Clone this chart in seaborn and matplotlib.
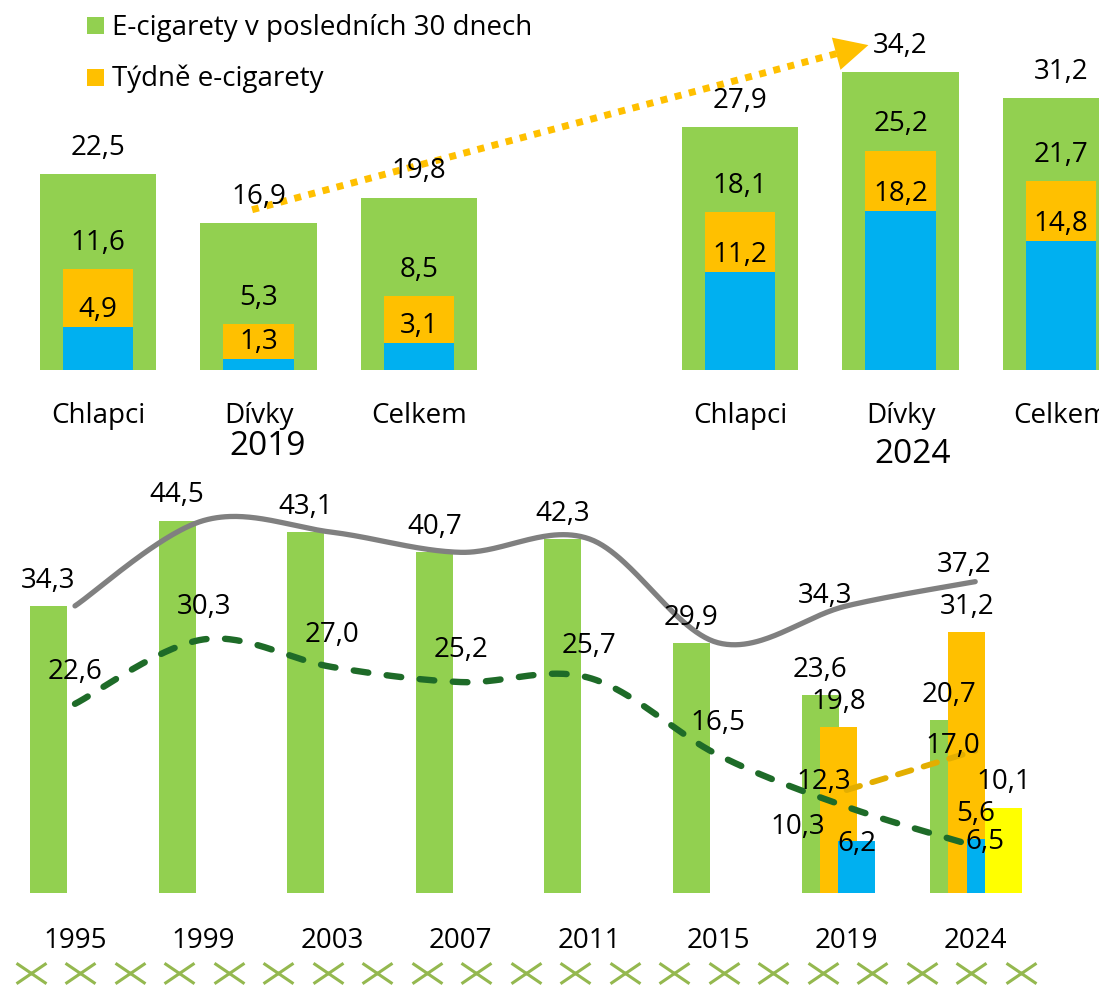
import numpy as np
import pandas as pd
import matplotlib
matplotlib.use("Agg")
import matplotlib.pyplot as plt
from matplotlib.path import Path
from matplotlib.patches import Rectangle
import seaborn as sns

# ---------------- data ----------------
groups = ["Chlapci", "Dívky", "Celkem"]
panel_years = ["2019", "2024"]
ecig_month_2019 = [22.5, 16.9, 19.8]
ecig_week_2019 = [11.6, 5.3, 8.5]
ecig_day_2019 = [4.9, 1.3, 3.1]
ecig_month_2024 = [27.9, 34.2, 31.2]
ecig_week_2024 = [18.1, 25.2, 21.7]
ecig_day_2024 = [11.2, 18.2, 14.8]

survey_years = ["1995", "1999", "2003", "2007", "2011", "2015", "2019", "2024"]
cig_month = [34.3, 44.5, 43.1, 40.7, 42.3, 29.9, 23.6, 20.7]
any_month = [34.3, 44.5, 43.1, 40.7, 42.3, 29.9, 34.3, 37.2]
cig_frequent = [22.6, 30.3, 27.0, 25.2, 25.7, 16.5, 10.3, 5.6]
ecig_years = ["2019", "2024"]
ecig_month = [19.8, 31.2]
ecig_frequent = [12.3, 17.0]
ecig_daily = [6.2, 6.5]
other_years = ["2024"]
other_month = [10.1]

legend_labels = ["E-cigarety v posledních 30 dnech", "Týdně e-cigarety"]

# ---------------- style ----------------
GREEN = "#92D050"
ORANGE = "#FFC000"
BLUE = "#00B0F0"
YELLOW = "#FFFF00"
GRAY = "#808080"
DKGREEN = "#1E6B28"
GOLD = "#E3AE00"
CROSS = "#94B84F"

plt.rcParams["font.family"] = ["Open Sans", "DejaVu Sans"]
NUM_FS = 20
YEAR_FS = 24
LEGEND_FS = 20
W, H = 1099, 989
fig = plt.figure(figsize=(W / 100, H / 100), dpi=100)


def fmt(v):
    return f"{v:.1f}".replace(".", ",")


def put(ax, x, y, text, dx=0, dy=28, fs=NUM_FS, z=6):
    # dy = distance (px) from the anchor to the visual centre of the digits
    em = fs * 100 / 72
    ax.annotate(text, (x, y), xytext=(dx, dy - 0.357 * em),
                textcoords="offset pixels", ha="center", va="baseline",
                fontsize=fs, color="black", zorder=z, annotation_clip=False)


def smooth(xs, ys, n=60):
    pts = np.column_stack([xs, ys]).astype(float)
    out = []
    for i in range(len(pts) - 1):
        p0 = pts[i - 1] if i > 0 else pts[i]
        p1, p2 = pts[i], pts[i + 1]
        p3 = pts[i + 2] if i + 2 < len(pts) else pts[i + 1]
        c1 = p1 + (p2 - p0) / 6
        c2 = p2 - (p3 - p1) / 6
        t = np.linspace(0, 1, n)[:, None]
        if i > 0:
            t = t[1:]
        seg = ((1 - t) ** 3) * p1 + 3 * ((1 - t) ** 2) * t * c1 \
            + 3 * (1 - t) * t ** 2 * c2 + t ** 3 * p2
        out.append(seg)
    out = np.vstack(out)
    return out[:, 0], out[:, 1]


# ---------------- top: 2019 vs 2024 panels ----------------
TOP_BASE, TOP_UNIT, TOP_STEP, TOP_X0 = 370, 8.71, 160.5, 98
ax_top = fig.add_axes([0, 1 - TOP_BASE / H, 1, TOP_BASE / H])
top_pos = [0, 1, 2, 4, 5, 6]
top = pd.DataFrame({
    "pos": top_pos,
    "month": ecig_month_2019 + ecig_month_2024,
    "week": ecig_week_2019 + ecig_week_2024,
    "day": ecig_day_2019 + ecig_day_2024,
})
for col, color, width in [("month", GREEN, 0.723), ("week", ORANGE, 0.442),
                          ("day", BLUE, 0.442)]:
    sns.barplot(data=top, x="pos", y=col, native_scale=True, orient="x",
                width=width, color=color, saturation=1, errorbar=None,
                linewidth=0, ax=ax_top)
ax_top.set_xlim(-TOP_X0 / TOP_STEP, (W - TOP_X0) / TOP_STEP)
ax_top.set_ylim(0, TOP_BASE / TOP_UNIT)
ax_top.axis("off")

for _, r in top.iterrows():
    put(ax_top, r["pos"], r["month"], fmt(r["month"]), dy=29)
    put(ax_top, r["pos"], r["week"], fmt(r["week"]), dy=29)
    put(ax_top, r["pos"], r["day"], fmt(r["day"]), dy=20)
    name = groups[int(r["pos"]) % 4]
    ax_top.annotate(name, (r["pos"], 0), xytext=(0, -53),
                    textcoords="offset pixels", ha="center", va="baseline",
                    fontsize=NUM_FS, annotation_clip=False)
for k, (yr, dx, dy) in enumerate(zip(panel_years, [9, 12], [-85, -93])):
    ax_top.annotate(yr, (1 + 4 * k, 0), xytext=(dx, dy),
                    textcoords="offset pixels", ha="center", va="baseline",
                    fontsize=YEAR_FS, annotation_clip=False)

# dotted trend arrow between the two "Dívky" columns
a0 = (1 - 0.04, ecig_month_2019[1] + 1.5)
a1 = (5 - 0.2, ecig_month_2024[1] + 3.1)
frac = 0.955
mid = (a0[0] + (a1[0] - a0[0]) * frac, a0[1] + (a1[1] - a0[1]) * frac)
ax_top.plot([a0[0], mid[0]], [a0[1], mid[1]], color=ORANGE, lw=5,
            linestyle=(0, (1, 1.1)), dash_capstyle="butt", zorder=4,
            clip_on=False)
ax_top.annotate("", xy=a1, xytext=mid,
                arrowprops=dict(arrowstyle="-|>,head_length=1.0,head_width=0.5",
                                mutation_scale=24, color=ORANGE, lw=0,
                                shrinkA=0, shrinkB=0),
                zorder=4, annotation_clip=False)

# ---------------- bottom: long-term trend ----------------
BOT_BASE, BOT_TOP, BOT_UNIT, BOT_STEP, BOT_X0 = 893, 460, 8.37, 128.6, 75
ax_bot = fig.add_axes([0, 1 - BOT_BASE / H, 1, (BOT_BASE - BOT_TOP) / H])
xi = {y: i for i, y in enumerate(survey_years)}
bar_w = 37 / BOT_STEP
shift = 18.3 / BOT_STEP
first = -26.5 / BOT_STEP
series = [(survey_years, cig_month, GREEN),
          (ecig_years, ecig_month, ORANGE),
          (ecig_years, ecig_daily, BLUE),
          (other_years, other_month, YELLOW)]
bar_centres = []
for j, (yrs, vals, color) in enumerate(series):
    pos = [xi[y] + first + j * shift for y in yrs]
    sns.barplot(x=pos, y=vals, native_scale=True, orient="x", width=bar_w,
                color=color, saturation=1, errorbar=None, linewidth=0,
                ax=ax_bot)
    bar_centres.append(pos)

idx = np.arange(len(survey_years))
gx, gy = smooth(idx, any_month)
sns.lineplot(x=gx, y=gy, sort=False, estimator=None, color=GRAY, lw=3.8,
             solid_capstyle="round", ax=ax_bot, zorder=4)
dx_, dy_ = smooth(idx, cig_frequent)
sns.lineplot(x=dx_, y=dy_, sort=False, estimator=None, color=DKGREEN, lw=4.6,
             linestyle=(0, (2.3, 2.9)), dash_capstyle="round", ax=ax_bot,
             zorder=4)
ex = [xi[y] for y in ecig_years]
sns.lineplot(x=ex, y=ecig_frequent, sort=False, estimator=None, color=GOLD,
             lw=4.2, linestyle=(0, (2.4, 2.2)), dash_capstyle="round",
             ax=ax_bot, zorder=4)

ax_bot.set_xlim(-BOT_X0 / BOT_STEP, (W - BOT_X0) / BOT_STEP)
ax_bot.set_ylim(0, (BOT_BASE - BOT_TOP) / BOT_UNIT)
ax_bot.axis("off")

# value labels
for p, v in zip(bar_centres[0], cig_month):
    put(ax_bot, p, v, fmt(v), dy=28)
for p, v in zip(bar_centres[1], ecig_month):
    put(ax_bot, p, v, fmt(v), dy=28)
for p, v in zip(bar_centres[2], ecig_daily):
    put(ax_bot, p, v, fmt(v), dy=0)
for p, v in zip(bar_centres[3], other_month):
    put(ax_bot, p, v, fmt(v), dy=29)
for i, v in enumerate(cig_frequent):
    if survey_years[i] == "2019":
        put(ax_bot, i, v, fmt(v), dx=-49, dy=-17)
    else:
        put(ax_bot, i, v, fmt(v), dy=35)
for y, v, d in zip(ecig_years, any_month[-2:], [(-22, 13), (-11, 20)]):
    put(ax_bot, xi[y], v, fmt(v), dx=d[0], dy=d[1])
for y, v, d in zip(ecig_years, ecig_frequent, [(-23, 11), (-22, 8)]):
    put(ax_bot, xi[y], v, fmt(v), dx=d[0], dy=d[1])
for i, y in enumerate(survey_years):
    put(ax_bot, i, 0, y, dy=-45)

# ---------------- legend and decorative border ----------------
ov = fig.add_axes([0, 0, 1, 1], zorder=-1)
ov.set_xlim(0, W)
ov.set_ylim(H, 0)
ov.axis("off")
for k, (lab, color) in enumerate(zip(legend_labels, [GREEN, ORANGE])):
    top_y = 17 + 51.5 * k
    ov.add_patch(Rectangle((87, top_y), 17, 17, color=color, lw=0))
    ov.text(112, top_y + 17.5, lab, fontsize=LEGEND_FS, ha="left",
            va="baseline")

cross = Path([(-1, -0.68), (1, 0.68), (-1, 0.68), (1, -0.68)],
             [Path.MOVETO, Path.LINETO, Path.MOVETO, Path.LINETO])
cx = 30.5 + 49.5 * np.arange(21)
ov.plot(cx, np.full_like(cx, 973.0), linestyle="none", marker=cross,
        markersize=21.6, markeredgewidth=2.2, color=CROSS)

fig.savefig("out.png", dpi=100)
